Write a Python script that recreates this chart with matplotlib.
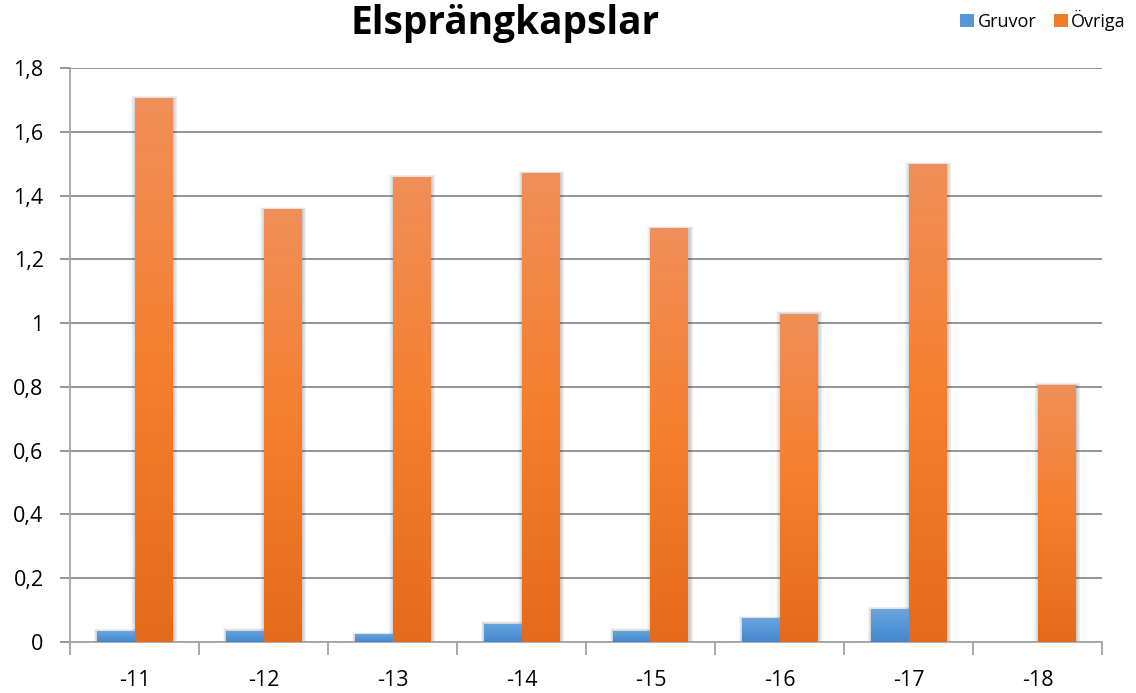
import numpy as np
import matplotlib
matplotlib.use("Agg")
import matplotlib.pyplot as plt
from matplotlib.patches import Rectangle, Patch
from matplotlib.colors import LinearSegmentedColormap

categories = ["-11", "-12", "-13", "-14", "-15", "-16", "-17", "-18"]
gruvor = [0.034, 0.036, 0.024, 0.058, 0.036, 0.074, 0.103, 0.0]
ovriga = [1.706, 1.357, 1.458, 1.47, 1.297, 1.03, 1.498, 0.807]
title = "Elsprängkapslar"
series_names = ["Gruvor", "Övriga"]

plt.rcParams['font.family'] = ['Open Sans', 'DejaVu Sans']

fig = plt.figure(figsize=(11.36, 6.93), dpi=100)
ax = fig.add_axes([70/1136, 51/693, 1032/1136, 574/693])

x = np.arange(len(categories))
w = 0.29

orange_cmap = LinearSegmentedColormap.from_list("o", ["#E46B1B", "#F57F2E", "#F08F59"])
blue_cmap = LinearSegmentedColormap.from_list("b", ["#4287CF", "#6AA5DE"])

grad = np.linspace(0, 1, 256).reshape(-1, 1)

def draw_bars(xs, vals, cmap, solid):
    for xi, v in zip(xs, vals):
        if v <= 0:
            continue
        # soft shadow
        for k, a in enumerate([0.04, 0.05, 0.06, 0.07, 0.08]):
            pad = (5 - k) * 0.007
            ax.add_patch(Rectangle((xi - w/2 - pad + 0.008, 0), w + 2*pad,
                                   v + pad*0.3 - 0.003, facecolor="#404040", edgecolor="none",
                                   alpha=a, zorder=2))
        r = Rectangle((xi - w/2, 0), w, v, facecolor=solid, edgecolor="none", zorder=3)
        ax.add_patch(r)
        im = ax.imshow(grad, cmap=cmap, extent=(xi - w/2, xi + w/2, 0, v),
                       origin="lower", aspect="auto", zorder=3.5, interpolation="bilinear")
        im.set_clip_path(r)

draw_bars(x - w/2, gruvor, blue_cmap, "#5797D8")
draw_bars(x + w/2, ovriga, orange_cmap, "#F07C2A")

ax.set_xlim(-0.5, len(categories) - 0.5)
ax.set_ylim(0, 1.8)
ax.set_yticks(np.arange(0, 1.81, 0.2))
ax.yaxis.set_major_formatter(matplotlib.ticker.FuncFormatter(
    lambda v, p: (f"{v:.1f}".rstrip('0').rstrip('.')).replace('.', ',')))
ax.grid(axis='y', color="#8C8C8C", linewidth=1.3, zorder=1)
ax.set_axisbelow(True)

ax.set_xticks(x)
ax.set_xticklabels(categories)
ax.set_xticks(np.arange(-0.5, len(categories), 1.0), minor=True)
ax.tick_params(axis='x', which='major', length=0, pad=20, labelsize=15.5)
ax.tick_params(axis='x', which='minor', length=9, color="#A0A0A0", width=1.3, direction='out')
ax.tick_params(axis='y', length=7, color="#8C8C8C", width=1.3, pad=12, labelsize=15.5)

for s in ["top", "right"]:
    ax.spines[s].set_visible(False)
ax.spines["left"].set_color("#A6A6A6")
ax.spines["left"].set_linewidth(1.3)
ax.spines["bottom"].set_color("#A6A6A6")
ax.spines["bottom"].set_linewidth(1.3)

fig.text(505/1136, 1 - 34/693, title, ha="center", va="baseline",
         fontsize=28, fontweight="bold", color="#000000")

handles = [Patch(facecolor="#5797D8", edgecolor="none"),
           Patch(facecolor="#F07C2A", edgecolor="none")]
fig.legend(handles, series_names, loc="center right", bbox_to_anchor=(1126/1136, 1 - 20/693),
           ncol=2, frameon=False, fontsize=13, handlelength=0.75, handleheight=0.75,
           handletextpad=0.2, columnspacing=1.0, borderaxespad=0, borderpad=0)

fig.savefig("out.png", dpi=100, facecolor="white")
